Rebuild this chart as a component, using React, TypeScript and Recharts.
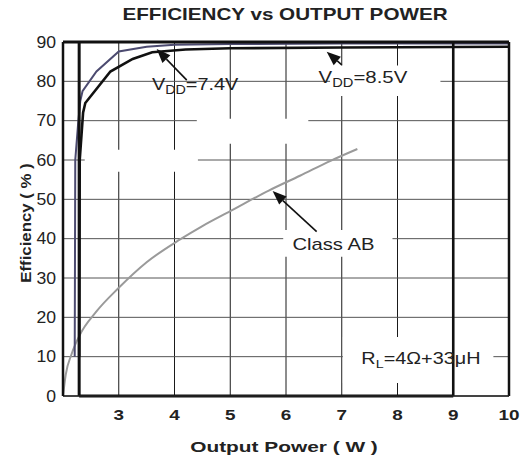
import {
  LineChart,
  Line,
  XAxis,
  YAxis,
  CartesianGrid,
  ReferenceLine,
  ReferenceArea,
  ReferenceDot,
} from 'recharts';

const FONT = '"Liberation Sans", Arial, Helvetica, sans-serif';

const X_TICKS = [2, 3, 4, 5, 6, 7, 8, 9, 10];
const Y_TICKS = [0, 10, 20, 30, 40, 50, 60, 70, 80, 90];

// VDD = 7.4V
const vdd74Power = [2.21, 2.22, 2.27, 2.31, 2.35, 2.6, 3.0, 3.5, 4.0, 5.0, 7.0, 10];
const vdd74Eff = [10, 60, 69, 75, 77.5, 82.5, 87.6, 88.8, 89.3, 89.5, 89.6, 89.6];

// VDD = 8.5V
const vdd85Power = [2.29, 2.3, 2.36, 2.4, 2.85, 3.25, 3.6, 4.2, 5.0, 7.0, 10];
const vdd85Eff = [10, 60, 72, 74.5, 82.5, 85.7, 87.4, 88.1, 88.4, 88.6, 88.8];

// Class AB
const classAbPower = [2.0, 2.05, 2.15, 2.3, 2.6, 3.0, 3.5, 4.1, 4.5, 5.0, 5.7, 6.25, 6.8, 7.28];
const classAbEff = [0, 5.5, 10.5, 15.5, 21.5, 27.5, 34, 39.8, 43.2, 47, 52.3, 56, 59.8, 62.8];

const zip = (xs: number[], ys: number[]) => xs.map((x, i) => ({ x, y: ys[i] }));

function YTick({ x, y, payload }: any) {
  return (
    <g transform={`translate(${x},${y + 5.8}) scale(1.1,1)`}>
      <text textAnchor="end" fontFamily={FONT} fontSize={16} fill="#222">
        {payload.value}
      </text>
    </g>
  );
}

function XTick({ x, y, payload }: any) {
  if (payload.value === 2) return null;
  return (
    <g transform={`translate(${x},${y + 22}) scale(1.35,1)`}>
      <text textAnchor="middle" fontFamily={FONT} fontSize={14} fontWeight="bold" fill="#222">
        {payload.value}
      </text>
    </g>
  );
}

function Arrow({ x1, y1, x2, y2 }: any) {
  const a = Math.atan2(y2 - y1, x2 - x1);
  const len = 14;
  const hw = 5.5;
  const bx = x2 - len * Math.cos(a);
  const by = y2 - len * Math.sin(a);
  const px = -Math.sin(a) * hw;
  const py = Math.cos(a) * hw;
  return (
    <g>
      <line x1={x1} y1={y1} x2={bx} y2={by} stroke="#111" strokeWidth={1.6} />
      <polygon points={`${x2},${y2} ${bx + px},${by + py} ${bx - px},${by - py}`} fill="#111" />
    </g>
  );
}

function Note({ cx, cy, main, sub, rest, size, sx }: any) {
  return (
    <g transform={`translate(${cx},${cy}) scale(${sx},1)`}>
      <text textAnchor="middle" fontFamily={FONT} fontSize={size} fill="#222">
        <tspan>{main}</tspan>
        {sub ? (
          <tspan fontSize={size * 0.72} dy={4}>
            {sub}
          </tspan>
        ) : null}
        {rest ? <tspan dy={sub ? -4 : 0}>{rest}</tspan> : null}
      </text>
    </g>
  );
}

export default function App() {
  return (
    <div style={{ position: 'absolute', left: 0, top: 0, width: 525, height: 455, background: '#fff' }}>
      <LineChart width={525} height={455} margin={{ top: 42, right: 16, bottom: 29, left: 23 }}>
        <CartesianGrid horizontal={false} stroke="#1a1a1a" strokeWidth={1} verticalValues={X_TICKS} />
        <CartesianGrid vertical={false} stroke="#555" strokeWidth={1} horizontalValues={Y_TICKS} />
        <XAxis
          type="number"
          dataKey="x"
          domain={[2, 10]}
          ticks={X_TICKS}
          interval={0}
          tickLine={false}
          tickSize={0}
          axisLine={{ stroke: '#222', strokeWidth: 1.5 }}
          tick={<XTick />}
          height={30}
          allowDataOverflow
        />
        <YAxis
          type="number"
          domain={[0, 90]}
          ticks={Y_TICKS}
          interval={0}
          tickLine={false}
          tickSize={0}
          tickMargin={7}
          axisLine={{ stroke: '#111', strokeWidth: 2.5 }}
          tick={<YTick />}
          width={40}
          allowDataOverflow
        />

        {/* white patches where the grid is broken in the original */}
        <ReferenceArea x1={6.79} x2={8.77} y1={76.3} y2={84} fill="#fff" fillOpacity={1} stroke="none" />
        <ReferenceArea x1={4.4} x2={6.4} y1={64.1} y2={70.5} fill="#fff" fillOpacity={1} stroke="none" />
        <ReferenceArea x1={2.39} x2={4.42} y1={57} y2={62.6} fill="#fff" fillOpacity={1} stroke="none" />
        <ReferenceArea x1={5.95} x2={7.91} y1={35.4} y2={42.2} fill="#fff" fillOpacity={1} stroke="none" />
        <ReferenceArea x1={7.02} x2={9.72} y1={3.3} y2={15} fill="#fff" fillOpacity={1} stroke="none" />

        <Line
          data={zip(classAbPower, classAbEff)}
          dataKey="y"
          type="monotone"
          stroke="#9a9a9a"
          strokeWidth={2}
          dot={false}
          isAnimationActive={false}
        />
        <Line
          data={zip(vdd74Power, vdd74Eff)}
          dataKey="y"
          type="linear"
          stroke="#4c4b70"
          strokeWidth={2}
          dot={false}
          isAnimationActive={false}
        />
        <Line
          data={zip(vdd85Power, vdd85Eff)}
          dataKey="y"
          type="linear"
          stroke="#111"
          strokeWidth={2.6}
          dot={false}
          isAnimationActive={false}
        />

        {/* heavy frame */}
        <ReferenceLine segment={[{ x: 2, y: 90 }, { x: 10, y: 90 }]} stroke="#111" strokeWidth={3} />
        <ReferenceLine segment={[{ x: 2.29, y: 0 }, { x: 2.29, y: 90 }]} stroke="#111" strokeWidth={3} />
        <ReferenceLine segment={[{ x: 9, y: 0 }, { x: 9, y: 90 }]} stroke="#111" strokeWidth={2.6} />
        <ReferenceLine segment={[{ x: 10, y: 0 }, { x: 10, y: 90 }]} stroke="#111" strokeWidth={2.5} />
        <ReferenceLine segment={[{ x: 2.29, y: 0 }, { x: 9, y: 0 }]} stroke="#111" strokeWidth={3} />

        {/* arrows: tail -> tip */}
        <ReferenceLine segment={[{ x: 4.22, y: 80.3 }, { x: 3.68, y: 88.2 }]} shape={(p: any) => <Arrow {...p} />} />
        <ReferenceLine segment={[{ x: 7.0, y: 84.2 }, { x: 6.73, y: 87.5 }]} shape={(p: any) => <Arrow {...p} />} />
        <ReferenceLine segment={[{ x: 6.55, y: 41.8 }, { x: 5.76, y: 52.1 }]} shape={(p: any) => <Arrow {...p} />} />

        <ReferenceDot x={4.37} y={77.8} r={0} shape={(p: any) => <Note {...p} main="V" sub="DD" rest="=7.4V" size={17} sx={1.17} />} />
        <ReferenceDot x={7.38} y={79.6} r={0} shape={(p: any) => <Note {...p} main="V" sub="DD" rest="=8.5V" size={17} sx={1.2} />} />
        <ReferenceDot x={6.85} y={37.1} r={0} shape={(p: any) => <Note {...p} main="Class AB" size={17} sx={1.19} />} />
        <ReferenceDot x={8.42} y={8.1} r={0} shape={(p: any) => <Note {...p} main="R" sub="L" rest="=4Ω+33μH" size={16} sx={1.24} />} />
      </LineChart>

      <svg width={525} height={455} style={{ position: 'absolute', left: 0, top: 0, pointerEvents: 'none' }}>
        <g transform="translate(285,20) scale(1.29,1)">
          <text textAnchor="middle" fontFamily={FONT} fontSize={16} fontWeight="bold" fill="#222">
            EFFICIENCY vs OUTPUT POWER
          </text>
        </g>
        <g transform="translate(284,452) scale(1.39,1)">
          <text textAnchor="middle" fontFamily={FONT} fontSize={15} fontWeight="bold" fill="#222">
            Output Power ( W )
          </text>
        </g>
        <g transform="translate(31,223) rotate(-90) scale(1.12,1)">
          <text textAnchor="middle" fontFamily={FONT} fontSize={15} fontWeight="bold" fill="#222">
            Efficiency ( % )
          </text>
        </g>
      </svg>
    </div>
  );
}
